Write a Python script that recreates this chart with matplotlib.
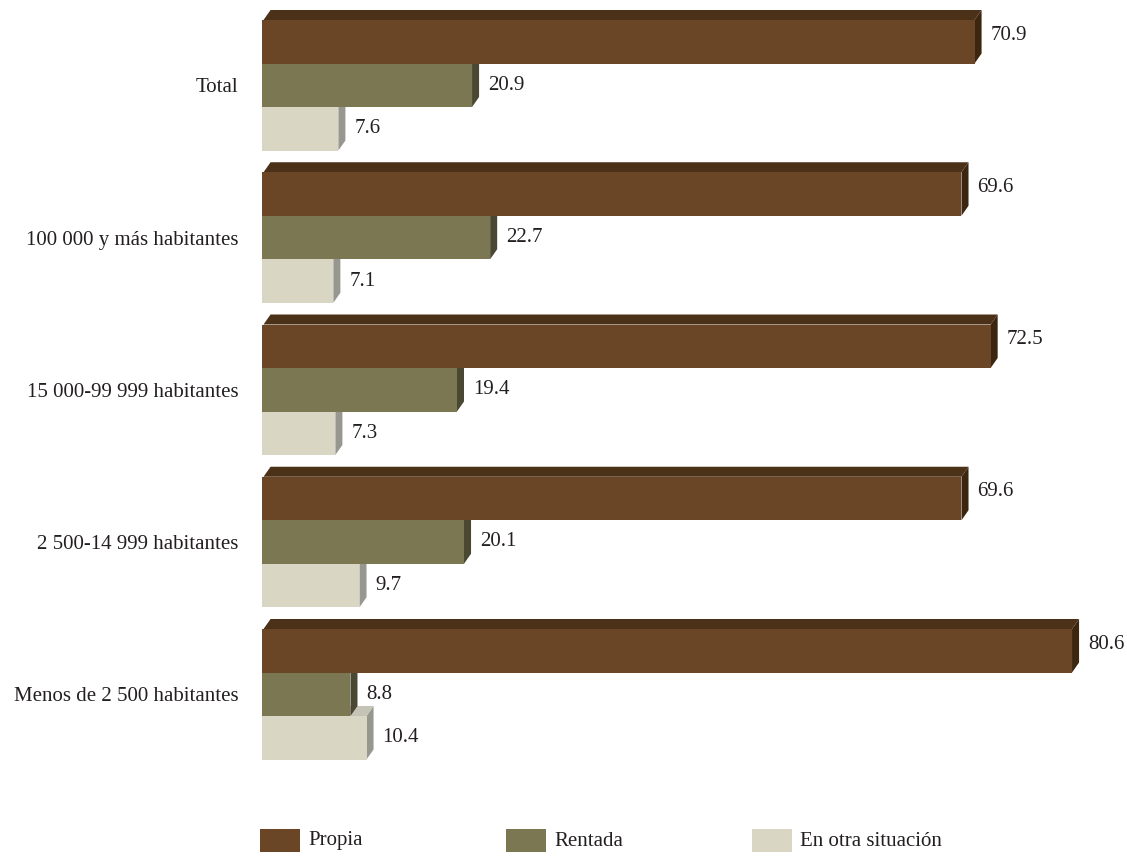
import matplotlib
matplotlib.use('Agg')
import matplotlib.pyplot as plt
from matplotlib.patches import Polygon, Rectangle

plt.rcParams['font.family'] = ['Liberation Serif', 'DejaVu Serif']

categorias = ['Total', '100 000 y más habitantes', '15 000-99 999 habitantes',
              '2 500-14 999 habitantes', 'Menos de 2 500 habitantes']
series = ['Propia', 'Rentada', 'En otra situación']
propia = [70.9, 69.6, 72.5, 69.6, 80.6]
rentada = [20.9, 22.7, 19.4, 20.1, 8.8]
otra = [7.6, 7.1, 7.3, 9.7, 10.4]

# front, top, side colours for each serie
colores = [('#6a4526', '#4c3119', '#3c2610'),
           ('#7b7753', '#5c5a3d', '#4a4832'),
           ('#d9d7c3', '#c4c3b6', '#979790')]

W, H = 1127, 856
fig = plt.figure(figsize=(W / 100, H / 100), dpi=100)
x0_px = 262
esc = 10.05          # px per unit
barra = 43.5         # px per bar
top_px = 20
bot_px = 790
ax = fig.add_axes([x0_px / W, 1 - bot_px / H, 1 - x0_px / W, bot_px / H])
ax.set_xlim(0, (W - x0_px) / esc)
ax.set_ylim((bot_px - top_px) / barra, -top_px / barra)

dx = 0.7
dy = 0.23
paso = 3.5
datos = [propia, rentada, otra]

for i in range(len(categorias)):
    for j in [2, 1, 0]:
        v = datos[j][i]
        fr, tp, sd = colores[j]
        top = i * paso + j
        bot = top + 1
        ax.add_patch(Polygon([(v, top), (v + dx, top - dy), (v + dx, bot - dy), (v, bot)],
                             closed=True, facecolor=sd, edgecolor='none'))
        ax.add_patch(Polygon([(0.15, top), (v, top), (v + dx, top - dy), (0.15 + dx, top - dy)],
                             closed=True, facecolor=tp, edgecolor='none'))
        ax.barh(top + 0.5, v, height=1, color=fr, edgecolor='none')
        yl = top + 0.5 - (0.15 if j == 0 else 0)
        ax.text(v + dx + 0.9, yl, f'{v:.1f}', va='center', ha='left',
                fontsize=15, color='#231f20')

ax.set_yticks([i * paso + 1.5 for i in range(len(categorias))])
ax.set_yticklabels(categorias, fontsize=15, color='#231f20')
ax.tick_params(axis='y', length=0, pad=17)
ax.set_xticks([])
for s in ax.spines.values():
    s.set_visible(False)

# legend
for k, nombre in enumerate(series):
    lx = 260 + k * 246
    fig.add_artist(Rectangle((lx / W, 1 - 852 / H), 40 / W, 23 / H,
                             transform=fig.transFigure, facecolor=colores[k][0],
                             edgecolor='none'))
    fig.text((lx + 48) / W, 1 - 841 / H, nombre, fontsize=15, va='center',
             ha='left', color='#231f20')

fig.savefig('out.png', dpi=100)
